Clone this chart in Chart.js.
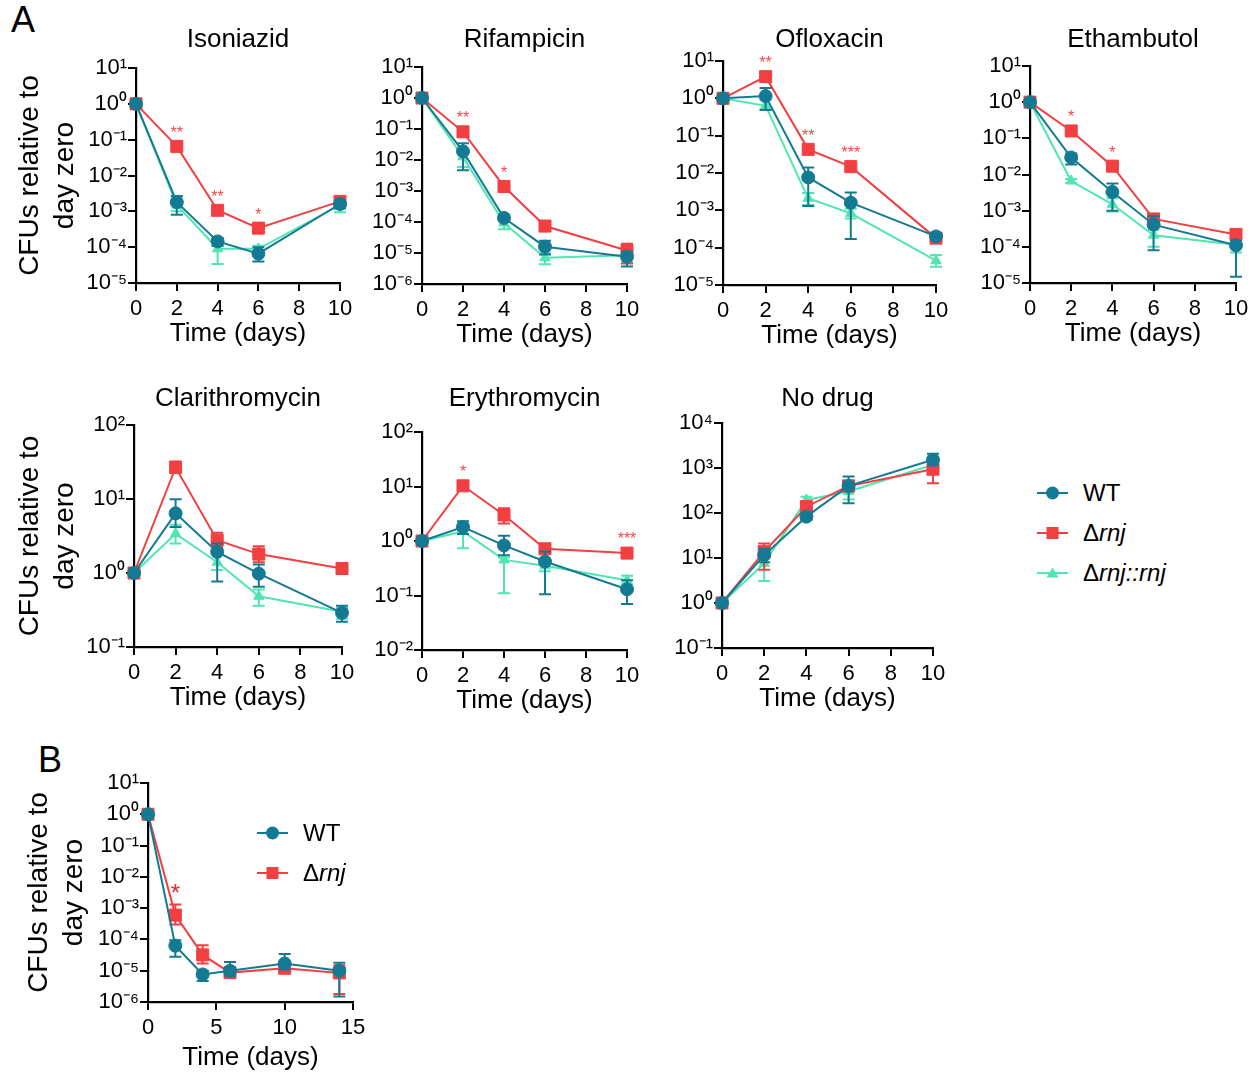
<!DOCTYPE html>
<html>
<head>
<meta charset="utf-8">
<title>CFUs relative to day zero</title>
<script src="https://cdn.jsdelivr.net/npm/chart.js@4.4.1/dist/chart.umd.min.js"></script>
<style>
  html, body { margin: 0; padding: 0; background: #fff; }
  body { position: relative; width: 1260px; height: 1072px; overflow: hidden; font-family: 'Liberation Sans', Arial, sans-serif; color: #000; }
  canvas { position: absolute; }
  .tag { position: absolute; font-size: 36px; line-height: 1; }
  .legrow { position: absolute; height: 24px; white-space: nowrap; font-size: 24px; }
  .legrow svg { position: absolute; left: 0; top: 0; }
  .legrow span { position: absolute; top: 0; line-height: 24px; }
</style>
</head>
<body>
<div class="tag" style="left:11px;top:2px">A</div>
<div class="tag" style="left:38px;top:742px">B</div>
<canvas id="iso"></canvas>
<canvas id="rif"></canvas>
<canvas id="ofx"></canvas>
<canvas id="eth"></canvas>
<canvas id="cla"></canvas>
<canvas id="ery"></canvas>
<canvas id="nod"></canvas>
<canvas id="panelB"></canvas>
<div id="legends"></div>
<script>
// sampling days
const days = [0, 2, 4, 6, 10];
const daysB = [0, 2, 4, 6, 10, 14];

// Isoniazid
const isoWT = [1, 1.8e-3, 1.45e-4, 6.6e-5, 1.6e-3];
const isoWTerr = [null, [8e-4, 2.7e-3], [1.1e-4, 1.8e-4], [4e-5, 1e-4], [1.2e-3, 2e-3]];
const isoRnj = [1, 0.065, 1.07e-3, 3.4e-4, 1.9e-3];
const isoRnjErr = [null, null, null, null, [1.6e-3, 2.3e-3]];
const isoComp = [1, 1.5e-3, 9e-5, 9e-5, 1.5e-3];
const isoCompErr = [null, [1e-3, 2.6e-3], [3.4e-5, 1.1e-4], [7e-5, 1.1e-4], [9.5e-4, 2e-3]];
const isoStars = ['', '**', '**', '*', ''];

// Rifampicin
const rifWT = [1, 0.019, 1.35e-4, 1.6e-5, 7.6e-6];
const rifWTerr = [null, [4.7e-3, 0.035], [1.1e-4, 1.7e-4], [9e-6, 2.5e-5], [3.7e-6, 1.1e-5]];
const rifRnj = [1, 0.081, 1.4e-3, 7.4e-5, 1.2e-5];
const rifRnjErr = [null, null, null, [5.5e-5, 9.5e-5], [4.6e-6, 2e-5]];
const rifComp = [1, 0.0126, 9.3e-5, 7e-6, 8.5e-6];
const rifCompErr = [null, [6e-3, 0.02], [5.8e-5, 1.3e-4], [4.3e-6, 1e-5], [5e-6, 1e-5]];
const rifStars = ['', '**', '*', '', ''];

// Ofloxacin
const ofxWT = [1, 1.15, 7.6e-3, 1.6e-3, 2e-4];
const ofxWTerr = [null, [0.49, 1.9], [1.3e-3, 0.014], [1.7e-4, 3e-3], [1.7e-4, 2.4e-4]];
const ofxRnj = [1, 3.8, 0.043, 0.0148, 1.8e-4];
const ofxRnjErr = [null, null, null, null, [1.6e-4, 2.1e-4]];
const ofxComp = [1, 0.63, 2.1e-3, 8.3e-4, 4.5e-5];
const ofxCompErr = [null, [0.5, 0.9], [1.4e-3, 2.9e-3], [6e-4, 1.1e-3], [3.1e-5, 6.4e-5]];
const ofxStars = ['', '**', '**', '***', ''];

// Ethambutol
const ethWT = [1, 0.0295, 3.3e-3, 4.1e-4, 1.1e-4];
const ethWTerr = [null, [0.019, 0.038], [1e-3, 5.6e-3], [8e-5, 7e-4], [1.5e-5, 1.5e-4]];
const ethRnj = [1, 0.16, 0.017, 5.9e-4, 2.2e-4];
const ethRnjErr = [null, null, null, [4.8e-4, 7e-4], [1.8e-4, 2.5e-4]];
const ethComp = [1, 6.6e-3, 1.5e-3, 2.1e-4, 1.15e-4];
const ethCompErr = [null, [5.8e-3, 7.5e-3], [9.5e-4, 2.2e-3], [1e-4, 3e-4], [7e-5, 1.5e-4]];
const ethStars = ['', '*', '*', '', ''];

// Clarithromycin
const claWT = [1, 6.4, 1.93, 0.98, 0.29];
const claWTerr = [null, [4.2, 9.9], [0.77, 2.5], [0.65, 1.3], [0.22, 0.36]];
const claRnj = [1, 26.7, 2.78, 1.8, 1.15];
const claRnjErr = [null, [23.4, 32], [2.2, 3.5], [1.4, 2.3], null];
const claComp = [1, 3.4, 1.4, 0.485, 0.3];
const claCompErr = [null, [2.5, 4.5], [1.1, 1.8], [0.36, 0.6], [0.24, 0.34]];
const claStars = ['', '', '', '', ''];

// Erythromycin
const eryWT = [1, 1.8, 0.83, 0.42, 0.13];
const eryWTerr = [null, [1.35, 2.3], [0.55, 1.25], [0.105, 0.64], [0.07, 0.19]];
const eryRnj = [1, 10.3, 3.0, 0.72, 0.6];
const eryRnjErr = [null, null, [2.1, 4], [0.62, 0.8], null];
const eryComp = [1, 1.5, 0.45, 0.35, 0.19];
const eryCompErr = [null, [0.74, 2.1], [0.11, 0.5], [0.28, 0.42], [0.16, 0.23]];
const eryStars = ['', '*', '', '', '***'];

// No drug
const nodWT = [1, 11.6, 83, 400, 1520];
const nodWTerr = [null, [8, 16], [70, 100], [165, 650], [1150, 2070]];
const nodRnj = [1, 13.8, 138, 400, 940];
const nodRnjErr = [null, [5.5, 21], [100, 180], [300, 520], [460, 1100]];
const nodComp = [1, 7.6, 195, 300, 1180];
const nodCompErr = [null, [3.1, 12], [150, 230], [200, 420], [900, 1500]];
const nodStars = ['', '', '', '', ''];

// Panel B
const bWT = [1, 6.3e-5, 7.6e-6, 9.9e-6, 1.7e-5, 1e-5];
const bWTerr = [null, [2.8e-5, 9.5e-5], [4.7e-6, 1e-5], [7e-6, 1.9e-5], [1.1e-5, 3.4e-5], [1.5e-6, 1.8e-5]];
const bRnj = [1, 6e-4, 3.2e-5, 8.7e-6, 1.2e-5, 8.5e-6];
const bRnjErr = [null, [3e-4, 1.3e-3], [1.7e-5, 6.5e-5], [7e-6, 1.1e-5], [1e-5, 1.5e-5], [1.8e-6, 1.5e-5]];
const bStars = ['', '*', '', '', '', ''];

const FONT = "'Liberation Sans', Arial, sans-serif";
const WT_COLOR = '#147a94';
const RNJ_COLOR = '#f23f42';
const COMP_COLOR = '#4fe6b0';

Chart.defaults.font.family = FONT;
Chart.defaults.color = '#000';

const sup = { '-': '\u207b', '0': '\u2070', '1': '\u00b9', '2': '\u00b2', '3': '\u00b3', '4': '\u2074',
              '5': '\u2075', '6': '\u2076', '7': '\u2077', '8': '\u2078', '9': '\u2079' };
function powLabel(v) {
    const e = Math.round(Math.log10(v));
    return '10' + String(e).split('').map(c => sup[c]).join('');
}

// vertical error bars with caps, drawn under each dataset's line and markers
const errorBars = {
    id: 'errorBars',
    beforeDatasetDraw(chart, args) {
        const ds = chart.data.datasets[args.index];
        if (!ds.errors) return;
        const ctx = chart.ctx;
        const y = chart.scales.y;
        ctx.save();
        ctx.strokeStyle = ds.borderColor;
        ctx.lineWidth = 2;
        args.meta.data.forEach((pt, i) => {
            const e = ds.errors[i];
            if (!e) return;
            const y0 = y.getPixelForValue(e[0]);
            const y1 = y.getPixelForValue(e[1]);
            ctx.beginPath();
            ctx.moveTo(pt.x, y0); ctx.lineTo(pt.x, y1);
            ctx.moveTo(pt.x - 6, y0); ctx.lineTo(pt.x + 6, y0);
            ctx.moveTo(pt.x - 6, y1); ctx.lineTo(pt.x + 6, y1);
            ctx.stroke();
        });
        ctx.restore();
    }
};

// significance asterisks above the points of a dataset
const starMarks = {
    id: 'stars',
    afterDatasetsDraw(chart, args, opts) {
        const ctx = chart.ctx;
        const y = chart.scales.y;
        chart.data.datasets.forEach((ds, di) => {
            if (!ds.stars) return;
            chart.getDatasetMeta(di).data.forEach((pt, i) => {
                const s = ds.stars[i];
                if (!s) return;
                let top = pt.y - 7;
                const e = ds.errors && ds.errors[i];
                if (e) top = Math.min(top, y.getPixelForValue(e[1]));
                ctx.save();
                ctx.fillStyle = opts.color;
                ctx.font = opts.size + 'px ' + FONT;
                ctx.textAlign = 'center';
                ctx.textBaseline = 'middle';
                ctx.fillText(s, pt.x, top - opts.offset);
                ctx.restore();
            });
        });
    }
};

function series(label, xs, ys, errs, color, shape, radius, stars) {
    return {
        label: label,
        data: ys.map((v, i) => ({ x: xs[i], y: v })),
        errors: errs,
        stars: stars,
        borderColor: color,
        backgroundColor: color,
        pointBackgroundColor: color,
        pointBorderColor: color,
        borderWidth: 2,
        pointStyle: shape,
        pointRadius: radius,
        pointHoverRadius: radius,
        pointBorderWidth: 1,
        tension: 0,
        clip: false
    };
}

function three(xs, wt, wtErr, rnj, rnjErr, comp, compErr, stars) {
    return [
        series('WT', xs, wt, wtErr, WT_COLOR, 'circle', 6.5),
        series('\u0394rnj', xs, rnj, rnjErr, RNJ_COLOR, 'rect', 8.5, stars),
        series('\u0394rnj::rnj', xs, comp, compErr, COMP_COLOR, 'triangle', 6)
    ];
}

function makePanel(p) {
    const canvas = document.getElementById(p.id);
    const titleLh = 26 * 1.2;
    const left = p.L - p.yw;
    const top = p.title ? p.titleY - 22 : p.T - 20;
    const width = p.R + 22 - left;
    const height = p.B + p.xh - top;
    canvas.width = width;
    canvas.height = height;
    canvas.style.left = left + 'px';
    canvas.style.top = top + 'px';
    canvas.style.width = width + 'px';
    canvas.style.height = height + 'px';

    const axisGrid = { display: true, drawOnChartArea: false, drawTicks: true, tickLength: 8, color: '#000', lineWidth: 2 };
    const axisBorder = { display: true, color: '#000', width: 2.2 };

    return new Chart(canvas.getContext('2d'), {
        type: 'line',
        data: { datasets: p.datasets },
        options: {
            responsive: false,
            animation: false,
            events: [],
            layout: { padding: { left: 0, right: 22, top: p.title ? 0 : 20, bottom: 0 } },
            plugins: {
                legend: { display: false },
                tooltip: { enabled: false },
                title: {
                    display: !!p.title,
                    text: p.title,
                    fullSize: false,
                    color: '#000',
                    font: { size: 26, weight: 'normal', lineHeight: 1.2 },
                    padding: { top: 22 - titleLh / 2, bottom: p.T - p.titleY - titleLh / 2 }
                },
                stars: { offset: p.starOffset || 6, size: p.starSize || 16, color: p.starColor || '#f0474a' }
            },
            scales: {
                x: {
                    type: 'linear',
                    min: 0,
                    max: p.xMax,
                    afterFit: s => { s.height = p.xh; },
                    ticks: { stepSize: p.xStep, font: { size: 22 }, padding: 5, autoSkip: false, maxRotation: 0 },
                    grid: axisGrid,
                    border: axisBorder,
                    title: { display: true, text: 'Time (days)', font: { size: 26 }, padding: { top: 0, bottom: 4 } }
                },
                y: {
                    type: 'logarithmic',
                    min: Number('1e' + p.yLo),
                    max: Number('1e' + p.yHi),
                    afterFit: s => { s.width = p.yw; },
                    afterBuildTicks: s => {
                        const t = [];
                        for (let e = p.yLo; e <= p.yHi; e++) t.push({ value: Number('1e' + e), major: true });
                        s.ticks = t;
                    },
                    ticks: { callback: v => powLabel(v), font: { size: 22 }, padding: 1, autoSkip: false },
                    grid: axisGrid,
                    border: axisBorder,
                    title: {
                        display: !!p.yTitle,
                        text: ['CFUs relative to', 'day zero'],
                        font: { size: 28, lineHeight: 1.25 },
                        padding: { top: 13, bottom: 0 }
                    }
                }
            }
        },
        plugins: [errorBars, starMarks]
    });
}

makePanel({ id: 'iso', title: 'Isoniazid', L: 136, T: 68, R: 340, B: 283, titleY: 40, yw: 136, xh: 70,
    yLo: -5, yHi: 1, xMax: 10, xStep: 2, yTitle: true,
    datasets: three(days, isoWT, isoWTerr, isoRnj, isoRnjErr, isoComp, isoCompErr, isoStars) });
makePanel({ id: 'rif', title: 'Rifampicin', L: 422, T: 67, R: 627, B: 284, titleY: 40, yw: 80, xh: 70,
    yLo: -6, yHi: 1, xMax: 10, xStep: 2,
    datasets: three(days, rifWT, rifWTerr, rifRnj, rifRnjErr, rifComp, rifCompErr, rifStars) });
makePanel({ id: 'ofx', title: 'Ofloxacin', L: 723, T: 61, R: 936, B: 285, titleY: 40, yw: 80, xh: 70,
    yLo: -5, yHi: 1, xMax: 10, xStep: 2,
    datasets: three(days, ofxWT, ofxWTerr, ofxRnj, ofxRnjErr, ofxComp, ofxCompErr, ofxStars) });
makePanel({ id: 'eth', title: 'Ethambutol', L: 1030, T: 66, R: 1236, B: 283, titleY: 40, yw: 80, xh: 70,
    yLo: -5, yHi: 1, xMax: 10, xStep: 2,
    datasets: three(days, ethWT, ethWTerr, ethRnj, ethRnjErr, ethComp, ethCompErr, ethStars) });
makePanel({ id: 'cla', title: 'Clarithromycin', L: 134, T: 425, R: 342, B: 647, titleY: 399, yw: 134, xh: 70,
    yLo: -1, yHi: 2, xMax: 10, xStep: 2, yTitle: true,
    datasets: three(days, claWT, claWTerr, claRnj, claRnjErr, claComp, claCompErr, claStars) });
makePanel({ id: 'ery', title: 'Erythromycin', L: 422, T: 432, R: 627, B: 650, titleY: 399, yw: 80, xh: 70,
    yLo: -2, yHi: 2, xMax: 10, xStep: 2,
    datasets: three(days, eryWT, eryWTerr, eryRnj, eryRnjErr, eryComp, eryCompErr, eryStars) });
makePanel({ id: 'nod', title: 'No drug', L: 722, T: 423, R: 933, B: 648, titleY: 399, yw: 80, xh: 70,
    yLo: -1, yHi: 4, xMax: 10, xStep: 2,
    datasets: three(days, nodWT, nodWTerr, nodRnj, nodRnjErr, nodComp, nodCompErr, nodStars) });
makePanel({ id: 'panelB', title: '', L: 148, T: 783, R: 353, B: 1002, yw: 139, xh: 75,
    yLo: -6, yHi: 1, xMax: 15, xStep: 5, yTitle: true,
    starOffset: 10, starSize: 24, starColor: '#e8202a',
    datasets: [
        series('WT', daysB, bWT, bWTerr, WT_COLOR, 'circle', 6.5),
        series('\u0394rnj', daysB, bRnj, bRnjErr, RNJ_COLOR, 'rect', 8.5, bStars)
    ] });

// legends (line + marker + label)
function legendRow(x, y, color, shape, html) {
    const row = document.createElement('div');
    row.className = 'legrow';
    row.style.left = x + 'px';
    row.style.top = (y - 12) + 'px';
    let mark = '';
    if (shape === 'circle') mark = '<circle cx="15.5" cy="12" r="6.5" fill="' + color + '"/>';
    if (shape === 'rect') mark = '<rect x="9.5" y="6" width="12" height="12" fill="' + color + '"/>';
    if (shape === 'triangle') mark = '<polygon points="15.5,6.5 21.5,16.5 9.5,16.5" fill="' + color + '"/>';
    row.innerHTML = '<svg width="32" height="24"><line x1="0" y1="12" x2="31" y2="12" stroke="' + color +
        '" stroke-width="2"/>' + mark + '</svg><span style="left:46px">' + html + '</span>';
    document.getElementById('legends').appendChild(row);
}
legendRow(1037, 493, WT_COLOR, 'circle', 'WT');
legendRow(1037, 533, RNJ_COLOR, 'rect', '\u0394<i>rnj</i>');
legendRow(1037, 573, COMP_COLOR, 'triangle', '\u0394<i>rnj::rnj</i>');
legendRow(257, 833, WT_COLOR, 'circle', 'WT');
legendRow(257, 873, RNJ_COLOR, 'rect', '\u0394<i>rnj</i>');
</script>
</body>
</html>
